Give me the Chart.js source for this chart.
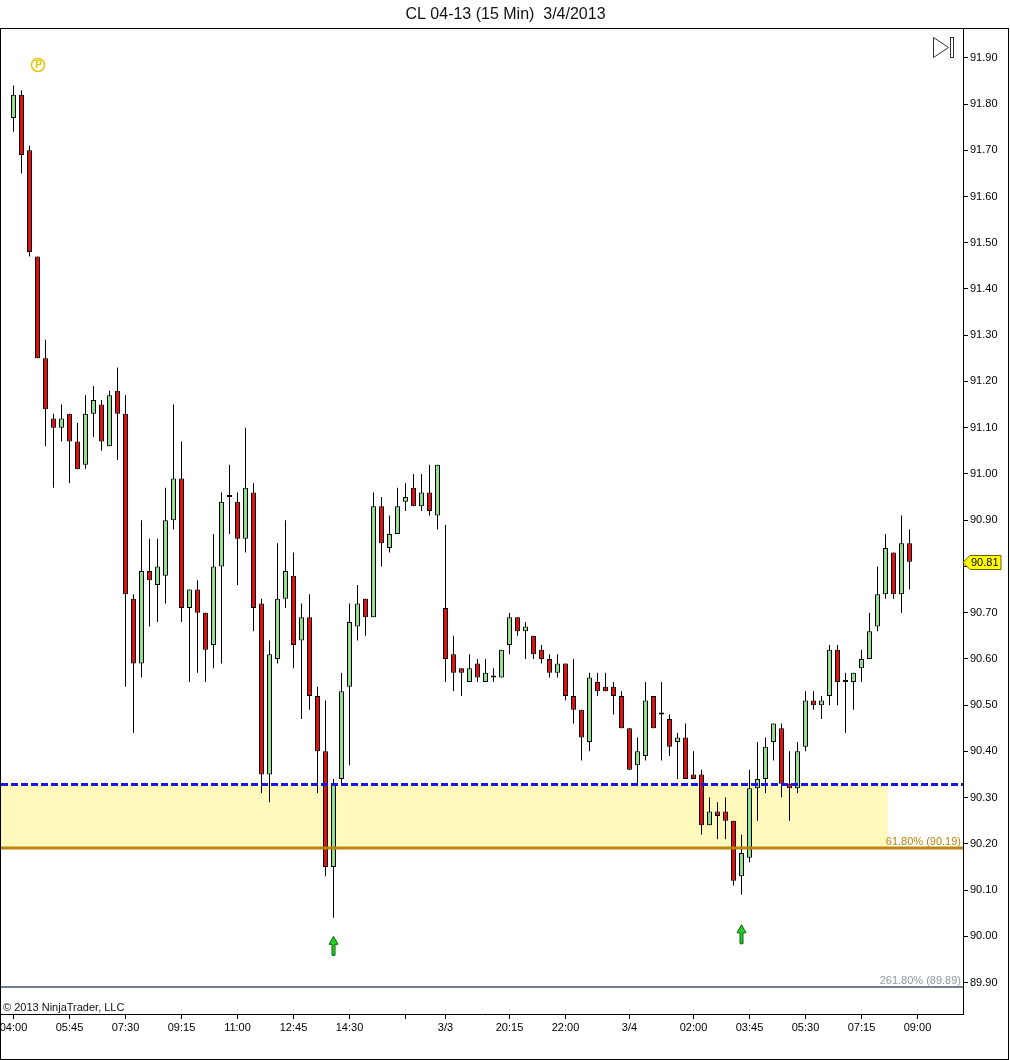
<!DOCTYPE html>
<html>
<head>
<meta charset="utf-8">
<title>CL 04-13 (15 Min) 3/4/2013</title>
<script src="https://cdn.jsdelivr.net/npm/chart.js@4.4.1/dist/chart.umd.min.js"></script>
<style>
  html, body { margin: 0; padding: 0; background: #fff; overflow: hidden; }
  canvas { display: block; }
</style>
</head>
<body>
<canvas id="chart" width="1010" height="1060"></canvas>
<script>
// 15 min bars, 04:00 on 3/1 through 08:45 on 3/4 (bar index = position on the time axis)
const opens = [91.77,91.82,91.70,91.47,91.25,91.12,91.10,91.13,91.07,91.02,
    91.13,91.15,91.06,91.18,91.13,90.73,90.59,90.79,90.76,90.78,
    90.90,90.99,90.71,90.75,90.70,90.63,90.80,90.95,90.94,90.86,
    90.96,90.72,90.35,90.60,90.73,90.78,90.64,90.69,90.52,90.40,
    90.15,90.34,90.54,90.67,90.73,90.69,90.93,90.84,90.87,90.94,
    90.97,90.93,90.96,90.91,90.71,90.61,90.58,90.55,90.59,90.55,
    90.56,90.56,90.63,90.69,90.66,90.65,90.62,90.60,90.57,90.59,
    90.52,90.49,90.42,90.55,90.54,90.54,90.52,90.45,90.37,90.39,
    90.52,90.48,90.47,90.42,90.43,90.35,90.35,90.24,90.27,90.27,
    90.25,90.13,90.17,90.32,90.34,90.42,90.45,90.33,90.32,90.41,
    90.51,90.50,90.52,90.62,90.55,90.55,90.58,90.60,90.67,90.74,
    90.83,90.74,90.85];
const highs = [91.84,91.83,91.71,91.47,91.29,91.13,91.15,91.13,91.11,91.17,
    91.19,91.16,91.18,91.23,91.17,90.74,90.90,90.86,90.86,90.97,
    91.15,91.07,90.75,90.77,90.70,90.87,90.96,91.02,90.96,91.10,
    90.98,90.73,90.64,90.85,90.90,90.83,90.72,90.74,90.54,90.51,
    90.34,90.57,90.72,90.76,90.73,90.96,90.95,90.91,90.97,90.98,
    91.00,91.00,91.02,91.02,90.89,90.65,90.58,90.61,90.60,90.60,
    90.58,90.62,90.70,90.69,90.68,90.65,90.63,90.61,90.61,90.59,
    90.60,90.49,90.57,90.57,90.57,90.55,90.53,90.45,90.43,90.55,
    90.52,90.55,90.48,90.44,90.46,90.40,90.36,90.30,90.29,90.30,
    90.25,90.22,90.36,90.42,90.43,90.46,90.46,90.40,90.42,90.53,
    90.53,90.52,90.63,90.63,90.57,90.57,90.62,90.70,90.80,90.87,
    90.83,90.91,90.88];
const lows = [91.74,91.65,91.47,91.25,91.06,90.97,91.07,90.98,91.01,91.01,
    91.08,91.05,91.06,91.03,90.54,90.44,90.56,90.67,90.68,90.72,
    90.88,90.68,90.55,90.57,90.55,90.58,90.59,90.87,90.76,90.83,
    90.66,90.31,90.29,90.59,90.71,90.58,90.47,90.49,90.31,90.13,
    90.04,90.33,90.37,90.64,90.65,90.69,90.80,90.83,90.87,90.92,
    90.93,90.92,90.91,90.88,90.55,90.53,90.52,90.55,90.55,90.55,
    90.55,90.56,90.61,90.65,90.60,90.60,90.59,90.56,90.56,90.51,
    90.46,90.38,90.40,90.52,90.53,90.48,90.45,90.36,90.33,90.38,
    90.45,90.38,90.39,90.34,90.34,90.34,90.22,90.24,90.21,90.21,
    90.11,90.09,90.16,90.25,90.31,90.38,90.30,90.25,90.31,90.40,
    90.49,90.47,90.50,90.50,90.44,90.49,90.55,90.60,90.66,90.73,
    90.73,90.70,90.75];
const closes = [91.82,91.69,91.48,91.25,91.14,91.10,91.12,91.07,91.01,91.13,
    91.16,91.07,91.17,91.13,90.74,90.59,90.79,90.77,90.80,90.90,
    90.99,90.71,90.75,90.70,90.62,90.80,90.94,90.95,90.86,90.97,
    90.71,90.35,90.61,90.73,90.79,90.63,90.69,90.52,90.40,90.15,
    90.33,90.53,90.68,90.72,90.69,90.93,90.85,90.87,90.93,90.95,
    90.93,90.96,90.92,91.02,90.60,90.57,90.57,90.58,90.56,90.57,
    90.56,90.62,90.69,90.66,90.67,90.61,90.60,90.57,90.59,90.52,
    90.49,90.43,90.56,90.53,90.53,90.52,90.45,90.36,90.40,90.51,
    90.45,90.48,90.41,90.43,90.34,90.34,90.24,90.27,90.26,90.25,
    90.12,90.18,90.32,90.34,90.41,90.46,90.33,90.32,90.40,90.51,
    90.50,90.51,90.62,90.55,90.55,90.57,90.60,90.66,90.74,90.84,
    90.74,90.85,90.81];

// x axis ticks (bar index) and their texts
const xTickIdx = [0, 7, 14, 21, 28, 35, 42, 49, 54, 62, 69, 77, 85, 92, 99, 106, 113];
const xTickText = ['04:00', '05:45', '07:30', '09:15', '11:00', '12:45', '14:30', '', '3/3',
    '20:15', '22:00', '3/4', '02:00', '03:45', '05:30', '07:15', '09:00'];
const yTicks = [89.90, 90.00, 90.10, 90.20, 90.30, 90.40, 90.50, 90.60, 90.70, 90.80,
    90.90, 91.00, 91.10, 91.20, 91.30, 91.40, 91.50, 91.60, 91.70, 91.80, 91.90];

// visible range of the axes
const xMin = -1.5625, xMax = 118.6875;
const yMin = 89.832, yMax = 91.964;

// drawing objects
const lineLevel = 90.33;         // blue dashed line
const zoneTop = 90.33, zoneBottom = 90.19, zoneEnd = 109.3;
const fibLevels = [90.19, 89.89];
const fibTexts = ['61.80% (90.19)', '261.80% (89.89)'];
const arrowIdx = [40, 91];
const arrowTip = [90.00, 90.025];

const upColor = '#90e090';
const downColor = '#e01010';
const candleColors = closes.map((c, i) => c >= opens[i] ? upColor : downColor);

Chart.defaults.font.family = '"Liberation Sans", Arial, sans-serif';

const overlays = {
    id: 'overlays',
    beforeDatasetsDraw(chart) {
        const { ctx, chartArea: a, scales: { x, y } } = chart;
        ctx.save();
        // 黃色區間
        const top = y.getPixelForValue(zoneTop);
        const bot = y.getPixelForValue(zoneBottom);
        ctx.fillStyle = '#fffabb';
        ctx.fillRect(a.left, top, x.getPixelForValue(zoneEnd) - a.left, bot - top);
        ctx.restore();
    },
    afterDatasetsDraw(chart) {
        const { ctx, chartArea: a, scales: { x, y } } = chart;
        ctx.save();

        // fib lines
        const fibColors = ['#b8860b', '#708090'];
        const fibTextColors = ['#b8860b', '#8c9aa8'];
        const fibWidths = [3, 2];
        fibLevels.forEach((lv, i) => {
            const py = Math.round(y.getPixelForValue(lv));
            ctx.strokeStyle = fibColors[i];
            ctx.lineWidth = fibWidths[i];
            ctx.beginPath();
            ctx.moveTo(a.left, py);
            ctx.lineTo(a.right, py);
            ctx.stroke();
            ctx.fillStyle = fibTextColors[i];
            ctx.font = '11px "Liberation Sans", Arial, sans-serif';
            ctx.textAlign = 'right';
            ctx.textBaseline = 'alphabetic';
            ctx.fillText(fibTexts[i], a.right - 2, py - 3);
        });

        // blue dashed line
        const by = Math.round(y.getPixelForValue(lineLevel)) + 0.5;
        ctx.strokeStyle = '#1818e0';
        ctx.lineWidth = 3;
        ctx.setLineDash([7, 3]);
        ctx.beginPath();
        ctx.moveTo(a.left, by);
        ctx.lineTo(a.right, by);
        ctx.stroke();
        ctx.setLineDash([]);

        // green up arrows
        arrowIdx.forEach((idx, i) => {
            const cx = x.getPixelForValue(idx);
            const ty = y.getPixelForValue(arrowTip[i]);
            ctx.beginPath();
            ctx.moveTo(cx, ty);
            ctx.lineTo(cx + 4.5, ty + 8);
            ctx.lineTo(cx + 1.5, ty + 8);
            ctx.lineTo(cx + 1.5, ty + 19);
            ctx.lineTo(cx - 1.5, ty + 19);
            ctx.lineTo(cx - 1.5, ty + 8);
            ctx.lineTo(cx - 4.5, ty + 8);
            ctx.closePath();
            ctx.fillStyle = '#22d022';
            ctx.fill();
            ctx.strokeStyle = '#106010';
            ctx.lineWidth = 1;
            ctx.stroke();
        });

        // (P) marker top left
        ctx.strokeStyle = '#e8c400';
        ctx.lineWidth = 1.5;
        ctx.beginPath();
        ctx.arc(38, 65, 6.5, 0, Math.PI * 2);
        ctx.stroke();
        ctx.fillStyle = '#e8c400';
        ctx.font = 'bold 10px "Liberation Sans", Arial, sans-serif';
        ctx.textAlign = 'center';
        ctx.textBaseline = 'middle';
        ctx.fillText('P', 38.5, 65.5);

        // play-to-end button top right
        ctx.strokeStyle = '#333';
        ctx.lineWidth = 1;
        ctx.beginPath();
        ctx.moveTo(933.5, 37.5);
        ctx.lineTo(948.5, 47.5);
        ctx.lineTo(933.5, 57.5);
        ctx.closePath();
        ctx.stroke();
        ctx.strokeRect(950.5, 37.5, 3, 20);

        // copyright
        ctx.fillStyle = '#111';
        ctx.font = '11px "Liberation Sans", Arial, sans-serif';
        ctx.textAlign = 'left';
        ctx.textBaseline = 'alphabetic';
        ctx.fillText('\u00a9 2013 NinjaTrader, LLC', 3, 1011);
        ctx.restore();
    },
    afterDraw(chart) {
        const { ctx, chartArea: a, scales: { y } } = chart;
        ctx.save();
        // last price marker on the axis
        const last = closes[closes.length - 1];
        const py = Math.round(y.getPixelForValue(last)) + 0.5;
        const l = a.right;
        ctx.beginPath();
        ctx.moveTo(l, py);
        ctx.lineTo(l + 7, py - 7);
        ctx.lineTo(l + 38, py - 7);
        ctx.lineTo(l + 38, py + 7);
        ctx.lineTo(l + 7, py + 7);
        ctx.closePath();
        ctx.fillStyle = '#ffff00';
        ctx.fill();
        ctx.strokeStyle = '#6b6000';
        ctx.lineWidth = 1;
        ctx.stroke();
        ctx.fillStyle = '#000';
        ctx.font = '11px "Liberation Sans", Arial, sans-serif';
        ctx.textAlign = 'left';
        ctx.textBaseline = 'middle';
        ctx.fillText(last.toFixed(2), l + 8, py + 0.5);

        // outer frame
        ctx.strokeStyle = '#000';
        ctx.strokeRect(0.5, 28.5, 1008, 1031);
        ctx.restore();
    }
};

new Chart(document.getElementById('chart'), {
    type: 'bar',
    data: {
        datasets: [
            {
                label: 'body',
                data: opens.map((o, i) => ({ x: i, y: [o, closes[i]] })),
                backgroundColor: candleColors,
                borderColor: '#000',
                borderWidth: 1,
                borderSkipped: false,
                barThickness: 5,
                minBarLength: 2,
                grouped: false,
                inflateAmount: 0,
                order: 1
            },
            {
                label: 'wick',
                data: lows.map((lo, i) => ({ x: i, y: [lo, highs[i]] })),
                backgroundColor: '#000',
                borderWidth: 0,
                barThickness: 1,
                grouped: false,
                inflateAmount: 0,
                order: 2
            }
        ]
    },
    options: {
        responsive: false,
        devicePixelRatio: 1,
        animation: false,
        events: [],
        layout: { padding: { left: 1, right: 0, top: 0, bottom: 0 } },
        plugins: {
            legend: { display: false },
            tooltip: { enabled: false },
            title: {
                display: true,
                text: 'CL 04-13 (15 Min)  3/4/2013',
                color: '#111',
                font: { size: 16, weight: 'normal' },
                padding: { top: 5, bottom: 4 }
            }
        },
        scales: {
            x: {
                type: 'linear',
                min: xMin,
                max: xMax,
                offset: false,
                grid: { offset: false, drawOnChartArea: false, drawTicks: true, tickLength: 5, color: '#000' },
                border: { display: true, color: '#000' },
                ticks: {
                    autoSkip: false,
                    maxRotation: 0,
                    padding: 2,
                    color: '#000',
                    font: { size: 11 },
                    callback: (v, i) => xTickText[i]
                },
                afterBuildTicks: axis => { axis.ticks = xTickIdx.map(v => ({ value: v })); },
                afterFit: axis => { axis.height = 46; axis.paddingLeft = 0; axis.paddingRight = 0; }
            },
            y: {
                position: 'right',
                min: yMin,
                max: yMax,
                grid: { drawOnChartArea: false, drawTicks: true, tickLength: 5, color: '#000' },
                border: { display: true, color: '#000' },
                ticks: {
                    padding: 2,
                    color: '#000',
                    font: { size: 11 },
                    callback: v => v.toFixed(2)
                },
                afterBuildTicks: axis => { axis.ticks = yTicks.map(v => ({ value: v })); },
                afterFit: axis => { axis.width = 47; axis.paddingTop = 0; axis.paddingBottom = 0; }
            }
        }
    },
    plugins: [overlays]
});
</script>
</body>
</html>
